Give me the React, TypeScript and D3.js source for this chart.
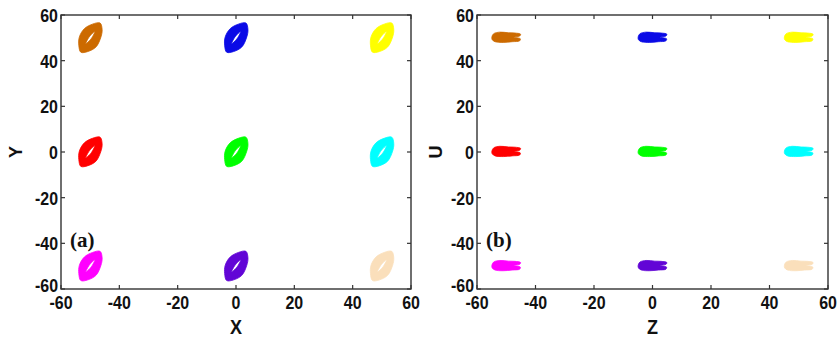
import React from 'react';
import * as d3 from 'd3';

// tick values shared by both panels
const TICKS = [-60, -40, -20, 0, 20, 40, 60];

// attractor centres (same grid in both projections)
const centerH = [-50, 0, 50, -50, 0, 50, -50, 0, 50];
const centerV = [50, 50, 50, 0, 0, 0, -50, -50, -50];
const attractorColors = [
  '#cc6a00', '#0a0ae6', '#ffff00',
  '#ff0000', '#00ff00', '#00ffff',
  '#ff00ff', '#6205d6', '#fadfbb'
];

// outline of one attractor in the X-Y plane (offsets)
const leafOuter: [number, number][] = [
  [3.4, 6.5], [4.1, 3.6], [3.7, 0.4], [2.0, -4.0], [-0.8, -6.0], [-3.2, -6.3],
  [-3.9, -3.2], [-3.7, 0.4], [-2.0, 4.0], [0.8, 6.0]
];
const leafHole: [number, number][] = [
  [1.6, 2.8], [0.4, -0.3], [-1.5, -2.6], [-0.4, 0.3]
];

// outline of one attractor in the Z-U plane
const fishOuter: [number, number][] = [
  [-4.9, 0.4], [-4.3, 1.8], [-2.2, 2.5], [0.8, 2.2], [3.0, 2.1], [4.9, 1.6],
  [4.6, 0.8], [2.6, 0.3], [4.8, -0.4], [4.6, -1.3], [2.0, -1.7], [-1.0, -2.0],
  [-3.8, -1.7], [-4.8, -0.8]
];

const FONT = "'Liberation Sans', Arial, sans-serif";
const SQUEEZE = 0.84;

interface PanelProps {
  left: number;
  right: number;
  top: number;
  bottom: number;
  xLabel: string;
  yLabel: string;
  yLabelX: number;
  tag: string;
  outer: [number, number][];
  hole?: [number, number][];
}

const Panel: React.FC<PanelProps> = ({ left, right, top, bottom, xLabel, yLabel, yLabelX, tag, outer, hole }) => {
  const x = d3.scaleLinear().domain([-60, 60]).range([left, right]);
  const y = d3.scaleLinear().domain([-60, 60]).range([bottom, top]);
  const closed = d3.line<[number, number]>().curve(d3.curveCatmullRomClosed.alpha(0.5));

  const shapePath = (cx: number, cy: number) => {
    const toPx = (pts: [number, number][]) =>
      pts.map(p => [x(cx + p[0]), y(cy + p[1])] as [number, number]);
    let d = closed(toPx(outer)) || '';
    if (hole) d += closed(toPx(hole)) || '';
    return d;
  };

  const tickLen = 4;
  return (
    <g>
      {centerH.map((cx, i) => (
        <path
          key={i}
          d={shapePath(cx, centerV[i])}
          fill={attractorColors[i]}
          fillRule="evenodd"
          stroke={attractorColors[i]}
          strokeWidth={0.8}
        />
      ))}
      <rect x={left} y={top} width={right - left} height={bottom - top}
        fill="none" stroke="#333" strokeWidth={1.4} />
      {TICKS.map(t => (
        <g key={'x' + t}>
          <line x1={x(t)} x2={x(t)} y1={bottom} y2={bottom - tickLen} stroke="#333" strokeWidth={1.2} />
          <line x1={x(t)} x2={x(t)} y1={top} y2={top + tickLen} stroke="#333" strokeWidth={1.2} />
          <text transform={`translate(${x(t)},${bottom + 20}) scale(${SQUEEZE},1)`} textAnchor="middle"
            fontFamily={FONT} fontWeight="bold" fontSize={19} fill="#111">{t}</text>
        </g>
      ))}
      {TICKS.map(t => (
        <g key={'y' + t}>
          <line x1={left} x2={left + tickLen} y1={y(t)} y2={y(t)} stroke="#333" strokeWidth={1.2} />
          <line x1={right} x2={right - tickLen} y1={y(t)} y2={y(t)} stroke="#333" strokeWidth={1.2} />
          <text transform={`translate(${left - 3},${t === -60 ? y(t) - 4 : y(t)}) scale(${SQUEEZE},1)`}
            dy="0.36em" textAnchor="end" fontFamily={FONT}
            fontWeight="bold" fontSize={19} fill="#111">{t}</text>
        </g>
      ))}
      <text transform={`translate(${(left + right) / 2},${bottom + 45}) scale(0.9,1)`} textAnchor="middle"
        fontFamily={FONT} fontWeight="bold" fontSize={20} fill="#111">{xLabel}</text>
      <text transform={`translate(${yLabelX},${(top + bottom) / 2}) rotate(-90)`} textAnchor="middle"
        dy="0.36em" fontFamily={FONT} fontWeight="bold" fontSize={18} fill="#111">{yLabel}</text>
      <text x={left + 9} y={y(-40) + 4} fontFamily="'Liberation Serif', 'Times New Roman', serif"
        fontWeight="bold" fontSize={21} fill="#111">{tag}</text>
    </g>
  );
};

const App: React.FC = () => {
  return (
    <svg width={837} height={339} style={{ position: 'absolute', left: 0, top: 0, background: '#fff' }}>
      <Panel left={61} right={411} top={15} bottom={289} xLabel="X" yLabel="Y" yLabelX={16}
        tag="(a)" outer={leafOuter} hole={leafHole} />
      <Panel left={477} right={828} top={15} bottom={289} xLabel="Z" yLabel="U" yLabelX={436}
        tag="(b)" outer={fishOuter} />
    </svg>
  );
};

export default App;
